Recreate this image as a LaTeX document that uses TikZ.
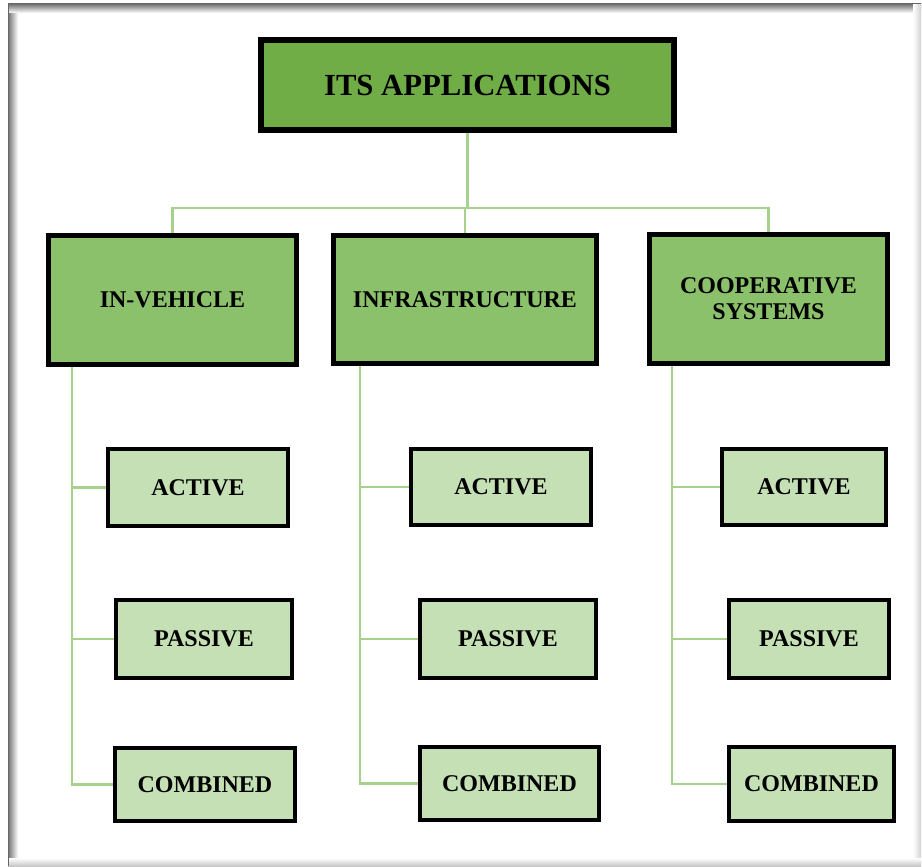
\documentclass[tikz,border=0pt]{standalone}
\usepackage{fontspec}
\setmainfont{Liberation Serif}
\usetikzlibrary{backgrounds}

\definecolor{rootgreen}{HTML}{70AD47}
\definecolor{midgreen}{HTML}{8CC16B}
\definecolor{leafgreen}{HTML}{C5E0B4}
\definecolor{linkgreen}{HTML}{A9D18E}

\begin{document}
\begin{tikzpicture}[x=1pt,y=-1pt,
  box/.style={draw=black, rectangle, inner sep=0pt, outer sep=0pt, align=center,
              font=\bfseries\fontsize{24}{26}\selectfont},
  rootbox/.style={box, fill=rootgreen, line width=6pt,
              font=\bfseries\fontsize{30.7}{33}\selectfont},
  midbox/.style={box, fill=midgreen, line width=5pt},
  leafbox/.style={box, fill=leafgreen, line width=4pt},
  link/.style={draw=linkgreen, line width=2.5pt}]

\useasboundingbox (0,0) rectangle (922,867);

% root
\node[rootbox, minimum width=413pt, minimum height=90pt] (r) at (467.5,85) {ITS APPLICATIONS};

% second level
\node[midbox, minimum width=248pt, minimum height=129pt] (v) at (172.5,300) {IN-VEHICLE};
\node[midbox, minimum width=263pt, minimum height=128pt] (f) at (465,299.5) {INFRASTRUCTURE};
\node[midbox, minimum width=238pt, minimum height=129pt] (c) at (768.5,299) {COOPERATIVE\\SYSTEMS};

% leaves under IN-VEHICLE
\node[leafbox, minimum width=180pt, minimum height=77pt] (v1) at (198,487.5) {ACTIVE};
\node[leafbox, minimum width=176pt, minimum height=78pt] (v2) at (204,639) {PASSIVE};
\node[leafbox, minimum width=180pt, minimum height=73pt] (v3) at (205,784.5) {COMBINED};

% leaves under INFRASTRUCTURE
\node[leafbox, minimum width=180pt, minimum height=76pt] (f1) at (501,487) {ACTIVE};
\node[leafbox, minimum width=176pt, minimum height=78pt] (f2) at (508,639) {PASSIVE};
\node[leafbox, minimum width=179pt, minimum height=73pt] (f3) at (509.5,783.5) {COMBINED};

% leaves under COOPERATIVE SYSTEMS
\node[leafbox, minimum width=164pt, minimum height=76pt] (c1) at (804,487) {ACTIVE};
\node[leafbox, minimum width=160pt, minimum height=78pt] (c2) at (809,639) {PASSIVE};
\node[leafbox, minimum width=165pt, minimum height=74pt] (c3) at (811.5,784) {COMBINED};

\begin{scope}[on background layer]
  % page frame with soft inner shadow
  \fill[white] (8,4) rectangle (921,866);
  \shade[left color=black!55, right color=white] (8,4) rectangle (18,866);
  \shade[top color=black!55, bottom color=white] (8,4) rectangle (921,13);
  \shade[left color=white, right color=black!18] (913,4) rectangle (921,866);
  \shade[top color=white, bottom color=black!22] (8,858) rectangle (921,866);
  \draw[black!60, line width=1pt] (8,866) -- (8,4) -- (921,4);

  % connectors from the root
  \coordinate (bus) at (467.5,208);
  \draw[link] (r.south) -- (bus);
  \draw[link] (v.north) |- (bus) -| (c.north);
  \draw[link] (f.north) -- (f.north |- bus);

  % trunks to the leaves
  \coordinate (vt) at (72,360);
  \coordinate (ft) at (360,360);
  \coordinate (ct) at (672,360);
  \draw[link] (vt) |- (v3.west);
  \draw[link] (vt |- v1.west) -- (v1.west);
  \draw[link] (vt |- v2.west) -- (v2.west);
  \draw[link] (ft) |- (f3.west);
  \draw[link] (ft |- f1.west) -- (f1.west);
  \draw[link] (ft |- f2.west) -- (f2.west);
  \draw[link] (ct) |- (c3.west);
  \draw[link] (ct |- c1.west) -- (c1.west);
  \draw[link] (ct |- c2.west) -- (c2.west);
\end{scope}
\end{tikzpicture}
\end{document}
